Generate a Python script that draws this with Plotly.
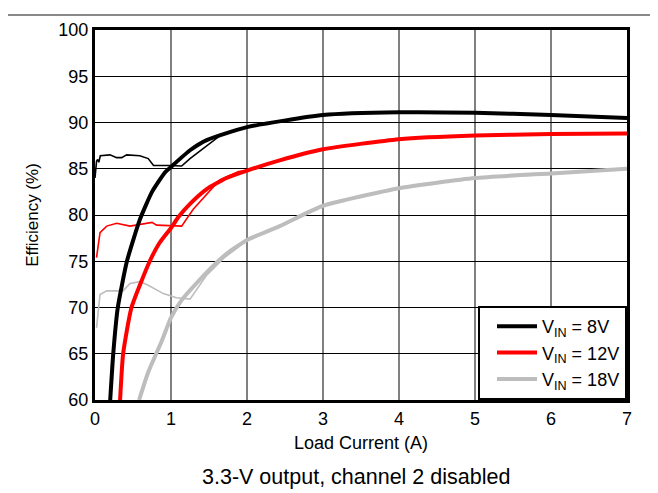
import plotly.graph_objects as go

# ── Data ──────────────────────────────────────────────────────────────────────
# Thick curves: efficiency vs load current
x_8v = [0.20, 0.24, 0.30, 0.42, 0.59, 0.75, 0.92, 1.0, 1.25, 1.47, 2.0, 3.0, 4.0, 5.0, 6.0, 7.0]
y_8v = [60.0, 65.0, 70.0, 75.0, 79.5, 82.5, 84.6, 85.2, 87.0, 88.1, 89.5, 90.8, 91.1, 91.05, 90.8, 90.5]

x_12v = [0.33, 0.37, 0.48, 0.72, 0.85, 1.0, 1.1, 1.25, 1.47, 1.73, 2.0, 2.43, 3.0, 4.0, 5.0, 6.0, 7.0]
y_12v = [60.0, 65.0, 70.0, 75.0, 77.0, 78.6, 79.8, 81.2, 82.8, 84.0, 84.8, 85.9, 87.1, 88.2, 88.6, 88.75, 88.8]

x_18v = [0.58, 0.70, 0.88, 1.0, 1.14, 1.47, 1.73, 2.0, 2.43, 3.0, 4.0, 5.0, 6.0, 7.0]
y_18v = [60.0, 63.0, 66.4, 68.9, 70.8, 73.8, 75.8, 77.3, 78.8, 81.0, 82.9, 84.0, 84.5, 85.0]

# Thin curves: light-load behaviour
x_8v_lt = [0.0, 0.02, 0.035, 0.05, 0.07, 0.154, 0.197, 0.285, 0.351, 0.417, 0.59, 0.70, 0.77, 0.97, 1.14, 1.25, 1.51, 1.65, 2.0]
y_8v_lt = [84.0, 85.8, 86.0, 85.7, 86.4, 86.5, 86.5, 86.2, 86.2, 86.5, 86.4, 86.1, 85.35, 85.35, 85.3, 86.1, 87.7, 88.6, 89.5]

x_12v_lt = [0.02, 0.066, 0.154, 0.285, 0.46, 0.64, 0.75, 0.81, 1.0, 1.14, 1.29, 1.64, 1.89, 2.0]
y_12v_lt = [75.4, 78.1, 78.8, 79.1, 78.8, 79.1, 79.2, 78.9, 78.8, 78.8, 80.6, 83.8, 84.7, 84.8]

x_18v_lt = [0.02, 0.066, 0.154, 0.37, 0.46, 0.59, 0.70, 0.90, 1.07, 1.25, 1.47, 1.69, 1.91, 2.0]
y_18v_lt = [67.8, 71.4, 71.8, 71.8, 72.6, 72.8, 72.4, 71.5, 71.06, 70.9, 73.5, 75.3, 76.7, 77.3]

x_ticks = [0, 1, 2, 3, 4, 5, 6, 7]
y_ticks = [60, 65, 70, 75, 80, 85, 90, 95, 100]

_BLACK = "#000000"
_RED   = "#FF0000"
_GRAY  = "#BDBDBD"

series = [
    ("V<sub>IN</sub> = 8V",  _BLACK, x_8v,  y_8v,  x_8v_lt,  y_8v_lt),
    ("V<sub>IN</sub> = 12V", _RED,   x_12v, y_12v, x_12v_lt, y_12v_lt),
    ("V<sub>IN</sub> = 18V", _GRAY,  x_18v, y_18v, x_18v_lt, y_18v_lt),
]

fig = go.Figure()

# thin light-load lines first (no legend)
for name, color, xs, ys, xl, yl in series:
    fig.add_trace(go.Scatter(
        x=xl, y=yl, mode="lines",
        line=dict(color=color, width=1.6),
        showlegend=False, hoverinfo="skip",
    ))

# thick curves
for name, color, xs, ys, xl, yl in series:
    fig.add_trace(go.Scatter(
        x=xs, y=ys, mode="lines", name=name,
        line=dict(color=color, width=4, shape="spline", smoothing=0.5),
    ))

font_family = "Liberation Sans, Arial, sans-serif"

# the page puts the plot 8px in from the top-left, margins allow for that
fig.update_layout(
    width=658,
    height=493,
    paper_bgcolor="#FFFFFF",
    plot_bgcolor="#FFFFFF",
    font=dict(family=font_family, size=18, color="#000000"),
    margin=dict(l=87, r=39, t=16, b=101),
    xaxis=dict(
        range=[0, 7],
        tickvals=x_ticks,
        ticks="",
        showgrid=True, gridcolor="#808080", gridwidth=1.5,
        showline=True, linecolor="#000000", linewidth=3, mirror=True,
        zeroline=False,
        tickfont=dict(size=18),
        title=dict(text="Load Current (A)", font=dict(size=18), standoff=9),
    ),
    yaxis=dict(
        range=[60, 100],
        tickvals=y_ticks,
        ticks="",
        showgrid=True, gridcolor="#000000", gridwidth=1,
        showline=True, linecolor="#000000", linewidth=3, mirror=True,
        zeroline=False,
        tickfont=dict(size=18),
        title=dict(text="Efficiency (%)", font=dict(size=17), standoff=16),
    ),
    legend=dict(
        x=1, y=0, xanchor="right", yanchor="bottom",
        bgcolor="#FFFFFF", bordercolor="#000000", borderwidth=2,
        font=dict(size=18),
        itemwidth=40,
        indentation=12,
        tracegroupgap=0,
    ),
    annotations=[
        dict(
            text="3.3-V output, channel 2 disabled",
            x=0.4906, y=-0.207, xref="paper", yref="paper",
            xanchor="center", yanchor="middle", showarrow=False,
            font=dict(size=21.5),
        ),
    ],
    shapes=[
        # gray outer frame (top and right edges visible)
        dict(type="line", xref="paper", yref="paper",
             x0=-0.3, x1=1.0526, y0=1.0405, y1=1.0405,
             line=dict(color="#888888", width=2)),
        dict(type="line", xref="paper", yref="paper",
             x0=1.0526, x1=1.0526, y0=1.0405, y1=-0.3,
             line=dict(color="#888888", width=2)),
    ],
)

fig.write_html("out.html")
